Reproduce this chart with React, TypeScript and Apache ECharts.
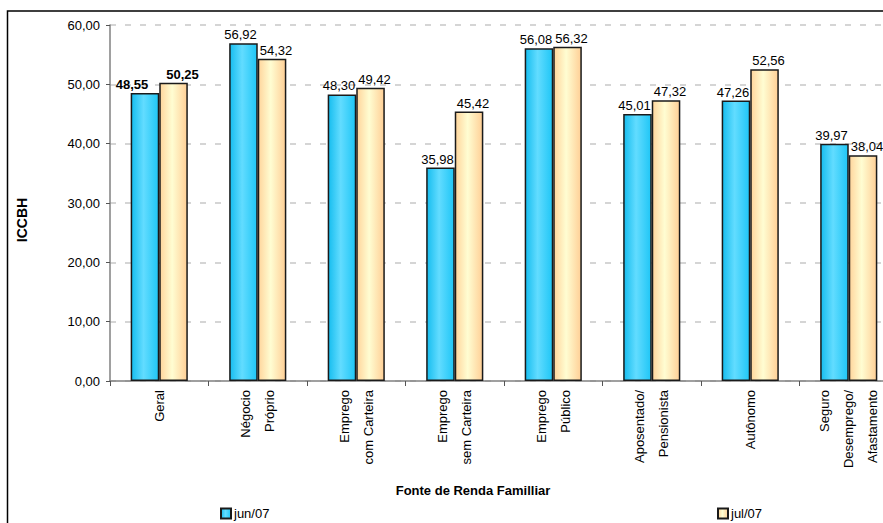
import React, { useEffect, useRef } from "react";
import * as echarts from "echarts";

const categories = [
  "Geral",
  "Négocio\nPróprio",
  "Emprego\ncom Carteira",
  "Emprego\nsem Carteira",
  "Emprego\nPúblico",
  "Aposentado/\nPensionista",
  "Autônomo",
  "Seguro\nDesemprego/\nAfastamento",
];
const junValues = [48.55, 56.92, 48.3, 35.98, 56.08, 45.01, 47.26, 39.97];
const julValues = [50.25, 54.32, 49.42, 45.42, 56.32, 47.32, 52.56, 38.04];
const seriesNames = ["jun/07", "jul/07"];
const yTicks = [0, 10, 20, 30, 40, 50, 60];

const fmt = (v: number) => v.toFixed(2).replace(".", ",");
const FONT = "Arial, 'Liberation Sans', sans-serif";

export default function App() {
  const ref = useRef<HTMLDivElement>(null);
  useEffect(() => {
    if (!ref.current) return;
    const chart = echarts.init(ref.current, undefined, { renderer: "svg" });
    const junColor = new echarts.graphic.LinearGradient(0, 0, 1, 0, [
      { offset: 0, color: "#16bdef" },
      { offset: 0.45, color: "#62dcff" },
      { offset: 1, color: "#1fc6f6" },
    ]);
    const julColor = new echarts.graphic.LinearGradient(0, 0, 1, 0, [
      { offset: 0, color: "#ffd59c" },
      { offset: 0.45, color: "#fffdd2" },
      { offset: 1, color: "#ffcf96" },
    ]);
    const mkData = (vals: number[], geralOffset: number[], offset: number[]) =>
      vals.map((v, i) => ({
        value: v,
        label:
          i === 0
            ? { fontWeight: "bold", offset: geralOffset }
            : { offset },
      }));
    const legendText = { fontSize: 13, color: "#000", fontFamily: FONT, padding: [0, 0, 0, -2] };
    chart.setOption({
      animation: false,
      backgroundColor: "#ffffff",
      textStyle: { fontFamily: FONT },
      grid: { left: 110, top: 25, width: 788, height: 356, containLabel: false },
      legend: [
        {
          data: [seriesNames[0]],
          left: 220,
          top: 507,
          padding: 0,
          itemWidth: 10,
          itemHeight: 10,
          icon: "rect",
          textStyle: legendText,
        },
        {
          data: [seriesNames[1]],
          left: 717,
          top: 507,
          padding: 0,
          itemWidth: 10,
          itemHeight: 10,
          icon: "rect",
          textStyle: legendText,
        },
      ],
      xAxis: {
        type: "category",
        data: categories,
        axisLine: { lineStyle: { color: "#808080", width: 1.5 } },
        axisTick: { show: true, length: 5, lineStyle: { color: "#555" } },
        axisLabel: {
          rotate: 90,
          interval: 0,
          margin: 9,
          fontSize: 13,
          lineHeight: 24,
          color: "#000",
          fontFamily: FONT,
        },
      },
      yAxis: {
        type: "value",
        min: 0,
        max: 60,
        interval: 10,
        axisLine: { show: true, lineStyle: { color: "#808080", width: 1.5 } },
        axisTick: { show: true, length: 4, lineStyle: { color: "#555" } },
        axisLabel: {
          fontSize: 13,
          color: "#000",
          margin: 10,
          fontFamily: FONT,
          formatter: (v: number) => (yTicks.includes(v) ? fmt(v) : ""),
        },
        splitLine: {
          show: true,
          lineStyle: { color: "#c8c8c8", type: [6, 9], width: 1.5 },
        },
      },
      series: [
        {
          name: seriesNames[0],
          type: "bar",
          data: mkData(junValues, [-13, 0], [-3, 0]),
          barGap: "0%",
          barCategoryGap: "42%",
          itemStyle: { color: junColor, borderColor: "#1a1a1a", borderWidth: 1.5 },
          label: {
            show: true,
            position: "top",
            distance: 2,
            fontSize: 13,
            color: "#000",
            fontFamily: FONT,
            formatter: (p: any) => fmt(p.value),
          },
        },
        {
          name: seriesNames[1],
          type: "bar",
          data: mkData(julValues, [9, 0], [4, 0]),
          barGap: "0%",
          barCategoryGap: "42%",
          itemStyle: { color: julColor, borderColor: "#1a1a1a", borderWidth: 1.5 },
          label: {
            show: true,
            position: "top",
            distance: 2,
            fontSize: 13,
            color: "#000",
            fontFamily: FONT,
            formatter: (p: any) => fmt(p.value),
          },
        },
      ],
      graphic: [
        {
          type: "rect",
          shape: { x: 7.5, y: 11, width: 1000, height: 700 },
          style: { fill: "none", stroke: "#000", lineWidth: 1.5 },
          silent: true,
          z: -1,
        },
        {
          type: "text",
          x: 22,
          y: 220,
          rotation: Math.PI / 2,
          style: {
            text: "ICCBH",
            fontSize: 14,
            fontWeight: "bold",
            fill: "#000",
            fontFamily: FONT,
            align: "center",
            verticalAlign: "middle",
          },
        },
        {
          type: "text",
          x: 473,
          y: 490,
          style: {
            text: "Fonte de Renda Familliar",
            fontSize: 13,
            fontWeight: "bold",
            fill: "#000",
            fontFamily: FONT,
            align: "center",
            verticalAlign: "middle",
          },
        },
      ],
    });
    return () => chart.dispose();
  }, []);
  return (
    <div style={{ position: "fixed", left: 0, top: 0, width: 883, height: 523, overflow: "hidden", background: "#fff" }}>
      <div ref={ref} style={{ width: 930, height: 540 }} />
    </div>
  );
}
